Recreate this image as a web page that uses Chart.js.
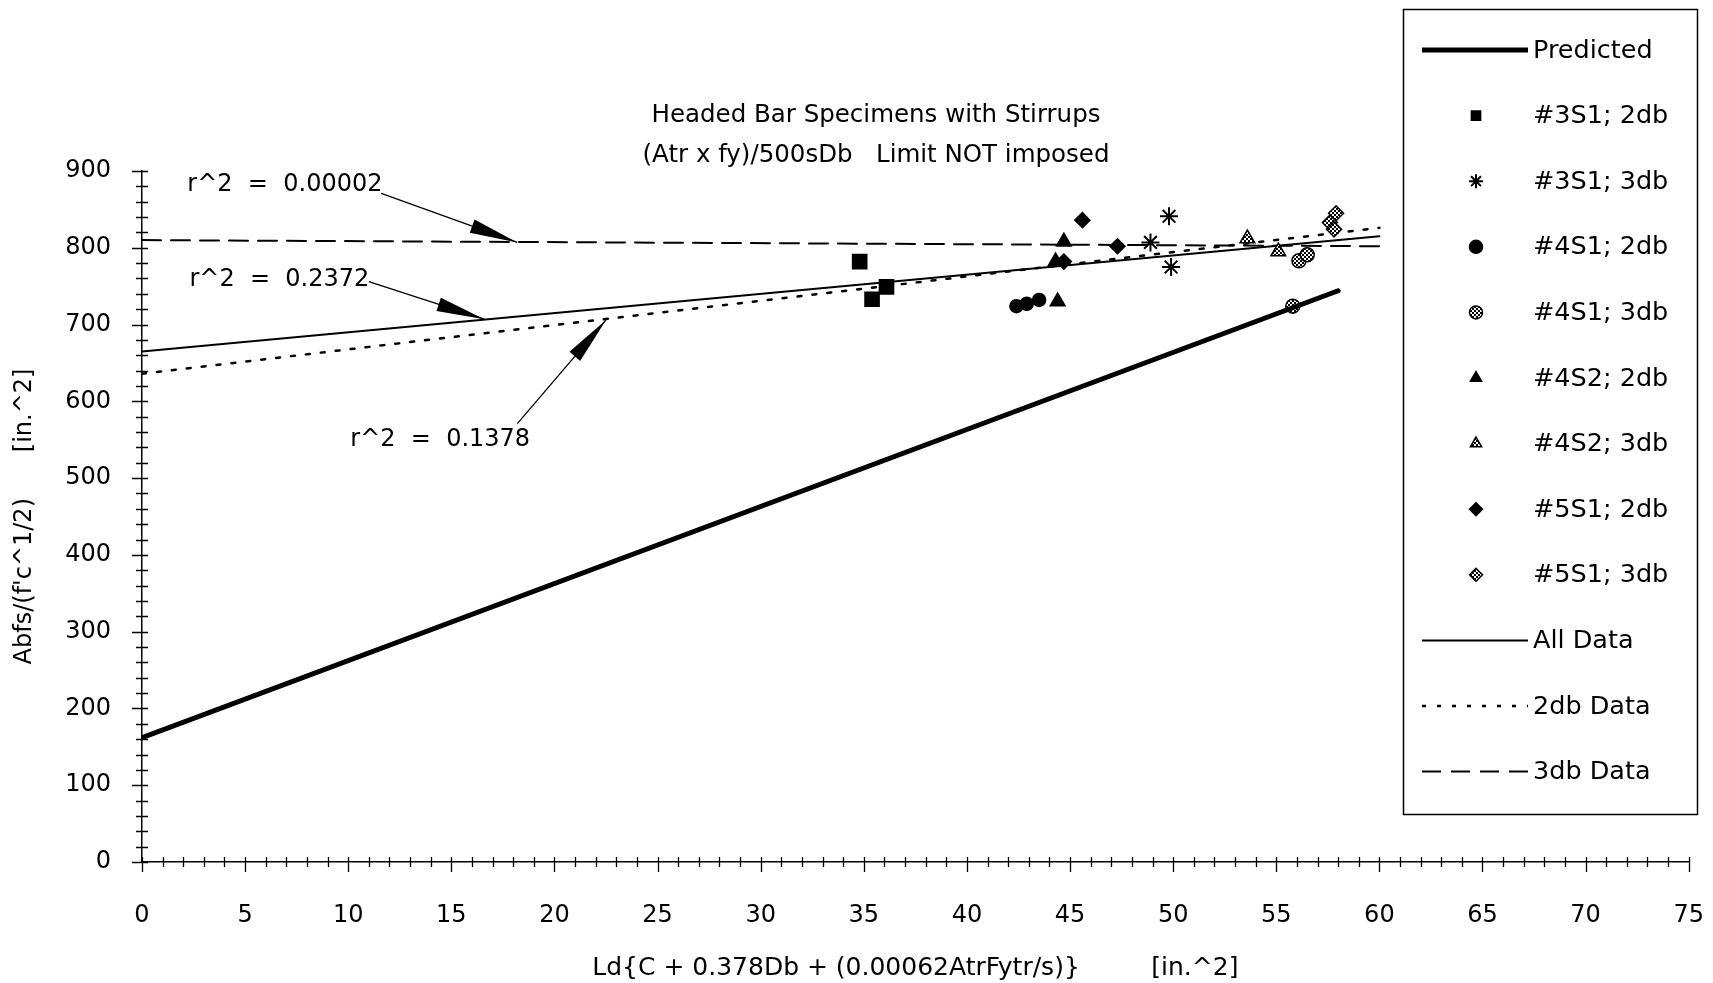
<!DOCTYPE html>
<html>
<head>
<meta charset="utf-8">
<script src="https://cdn.jsdelivr.net/npm/chart.js@4.4.1/dist/chart.umd.min.js"></script>
<style>
  html, body { margin: 0; padding: 0; background: #fff; }
</style>
</head>
<body>
<canvas id="chart" width="1713" height="983"></canvas>
<script>
// fitted / predicted lines (end points)
const predictedX = [0, 58];
const predictedY = [162, 744];
const allDataX = [0, 60];
const allDataY = [665, 815];
const db2X = [0, 60];
const db2Y = [636, 826];
const db3X = [0, 60];
const db3Y = [810, 802];

// test results
const s3S1_2dbX = [34.8, 35.4, 36.1];
const s3S1_2dbY = [782, 733, 749];
const s3S1_3dbX = [48.9, 49.8, 49.9];
const s3S1_3dbY = [807, 841, 775];
const s4S1_2dbX = [42.4, 42.9, 43.5];
const s4S1_2dbY = [724, 727, 732];
const s4S1_3dbX = [55.8, 56.1, 56.5];
const s4S1_3dbY = [724, 783, 791];
const s4S2_2dbX = [44.3, 44.4, 44.7];
const s4S2_2dbY = [782, 730, 808];
const s4S2_3dbX = [53.6, 55.1];
const s4S2_3dbY = [812, 795];
const s5S1_2dbX = [44.7, 45.6, 47.3];
const s5S1_2dbY = [782, 836, 802];
const s5S1_3dbX = [57.6, 57.8, 57.9];
const s5S1_3dbY = [833, 824, 845];

const xTicks = [0, 75, 5];
const yTicks = [0, 900, 100];

// r^2 notes: text anchor and arrow from/to, in data units
const notes = [
  { text: 'r^2  =  0.00002', x: 2.2, y: 882, from: [11.6, 871], to: [18.2, 807] },
  { text: 'r^2  =  0.2372', x: 2.3, y: 758, from: [11.0, 756], to: [16.6, 707] },
  { text: 'r^2  =  0.1378', x: 10.1, y: 550, from: [18.2, 571], to: [22.5, 706] }
];

const pts = (xs, ys) => xs.map((x, i) => ({ x: x, y: ys[i] }));

const ctx = document.getElementById('chart').getContext('2d');

function speckle() {
  const c = document.createElement('canvas');
  c.width = 4; c.height = 4;
  const g = c.getContext('2d');
  g.fillStyle = '#fff';
  g.fillRect(0, 0, 4, 4);
  g.fillStyle = '#000';
  g.fillRect(0, 0, 2, 2);
  g.fillRect(2, 2, 2, 2);
  return ctx.createPattern(c, 'repeat');
}
const dots = speckle();

Chart.defaults.font.family = "'DejaVu Sans', sans-serif";
Chart.defaults.color = '#000';

function lineSet(label, xs, ys, width, dash) {
  return {
    label: label, data: pts(xs, ys), showLine: true, pointRadius: 0,
    borderColor: '#000', borderWidth: width, borderDash: dash,
    borderCapStyle: 'round', fill: false
  };
}
function markSet(label, xs, ys, style, fill, radius) {
  return {
    label: label, data: pts(xs, ys), showLine: false, pointStyle: style,
    pointRadius: radius, pointBackgroundColor: fill, pointBorderColor: '#000',
    pointBorderWidth: style === 'star' ? 2 : 1.5
  };
}

const datasets = [
  lineSet('Predicted', predictedX, predictedY, 5, []),
  markSet('#3S1; 2db', s3S1_2dbX, s3S1_2dbY, 'rect', '#000', 10),
  markSet('#3S1; 3db', s3S1_3dbX, s3S1_3dbY, 'star', '#000', 9),
  markSet('#4S1; 2db', s4S1_2dbX, s4S1_2dbY, 'circle', '#000', 6.5),
  markSet('#4S1; 3db', s4S1_3dbX, s4S1_3dbY, 'circle', dots, 7),
  markSet('#4S2; 2db', s4S2_2dbX, s4S2_2dbY, 'triangle', '#000', 8.5),
  markSet('#4S2; 3db', s4S2_3dbX, s4S2_3dbY, 'triangle', dots, 8.5),
  markSet('#5S1; 2db', s5S1_2dbX, s5S1_2dbY, 'rectRot', '#000', 7.5),
  markSet('#5S1; 3db', s5S1_3dbX, s5S1_3dbY, 'rectRot', dots, 7.5),
  lineSet('All Data', allDataX, allDataY, 2, []),
  lineSet('2db Data', db2X, db2Y, 2.5, [4, 11]),
  lineSet('3db Data', db3X, db3Y, 2, [19, 10])
];

// crossing tick marks like the original plot
const tickMarks = {
  id: 'tickMarks',
  afterDraw(chart) {
    const c = chart.ctx, sx = chart.scales.x, sy = chart.scales.y;
    const y0 = sy.getPixelForValue(0), x0 = sx.getPixelForValue(0);
    c.save();
    c.strokeStyle = '#000';
    c.lineWidth = 1.3;
    c.beginPath();
    for (let v = xTicks[0]; v <= xTicks[1]; v++) {
      const px = Math.round(sx.getPixelForValue(v)) + 0.5;
      c.moveTo(px, y0 - 5);
      c.lineTo(px, y0 + (v % xTicks[2] === 0 ? 10 : 5));
    }
    for (let v = yTicks[0]; v <= yTicks[1]; v += 20) {
      const py = Math.round(sy.getPixelForValue(v)) + 0.5;
      c.moveTo(x0 - (v % yTicks[2] === 0 ? 10 : 6), py);
      c.lineTo(x0 + 6, py);
    }
    c.stroke();
    c.restore();
  }
};

const noteArrows = {
  id: 'noteArrows',
  afterDraw(chart) {
    const c = chart.ctx, sx = chart.scales.x, sy = chart.scales.y;
    c.save();
    c.fillStyle = '#000';
    c.strokeStyle = '#000';
    c.font = "24px 'DejaVu Sans'";
    c.textBaseline = 'middle';
    notes.forEach(n => {
      c.fillText(n.text, sx.getPixelForValue(n.x), sy.getPixelForValue(n.y));
      const ax = sx.getPixelForValue(n.from[0]), ay = sy.getPixelForValue(n.from[1]);
      const bx = sx.getPixelForValue(n.to[0]), by = sy.getPixelForValue(n.to[1]);
      c.lineWidth = 1.3;
      c.beginPath();
      c.moveTo(ax, ay);
      c.lineTo(bx, by);
      c.stroke();
      const len = Math.hypot(bx - ax, by - ay);
      const ux = (bx - ax) / len, uy = (by - ay) / len;
      const hx = bx - ux * 48, hy = by - uy * 48;
      c.beginPath();
      c.moveTo(bx, by);
      c.lineTo(hx - uy * 7, hy + ux * 7);
      c.lineTo(hx + uy * 7, hy - ux * 7);
      c.closePath();
      c.fill();
    });
    c.restore();
  }
};

const titles = {
  id: 'titles',
  afterDraw(chart) {
    const c = chart.ctx;
    c.save();
    c.fillStyle = '#000';
    c.font = "24.5px 'DejaVu Sans'";
    c.textAlign = 'center';
    c.textBaseline = 'middle';
    c.fillText('Headed Bar Specimens with Stirrups', 876, 116);
    c.fillText('(Atr x fy)/500sDb   Limit NOT imposed', 876, 156);
    c.restore();
  }
};

const boxLegend = {
  id: 'boxLegend',
  afterDraw(chart) {
    const c = chart.ctx;
    const left = 1403, top = 9, w = 294, h = 805;
    c.save();
    c.fillStyle = '#fff';
    c.fillRect(left, top, w, h);
    c.strokeStyle = '#000';
    c.lineWidth = 1.5;
    c.strokeRect(left + 0.5, top + 0.5, w, h);
    c.font = "25.5px 'DejaVu Sans'";
    c.textBaseline = 'middle';
    chart.data.datasets.forEach((ds, i) => {
      const y = 50 + i * 65.6;
      c.fillStyle = '#000';
      c.strokeStyle = '#000';
      if (ds.showLine) {
        c.lineWidth = ds.borderWidth;
        c.setLineDash(ds.borderDash);
        c.beginPath();
        c.moveTo(1422, y);
        c.lineTo(1528, y);
        c.stroke();
        c.setLineDash([]);
      } else {
        c.fillStyle = ds.pointBackgroundColor;
        c.lineWidth = ds.pointBorderWidth;
        Chart.helpers.drawPoint(c, {
          pointStyle: ds.pointStyle, radius: ds.pointStyle === 'star' ? 7 : 6.5,
          rotation: 0, borderWidth: ds.pointBorderWidth
        }, 1476, y);
      }
      c.fillStyle = '#000';
      c.fillText(ds.label, 1533, y + 1);
    });
    c.restore();
  }
};

new Chart(ctx, {
  type: 'scatter',
  data: { datasets: datasets },
  options: {
    responsive: false,
    animation: false,
    devicePixelRatio: 1,
    layout: { padding: { left: 0, right: 21, top: 171, bottom: 0 } },
    plugins: {
      legend: { display: false },
      tooltip: { enabled: false }
    },
    scales: {
      x: {
        type: 'linear', min: xTicks[0], max: xTicks[1],
        ticks: { stepSize: xTicks[2], padding: 9, font: { size: 24 } },
        grid: { display: true, drawOnChartArea: false, drawTicks: true, tickLength: 30, tickColor: 'rgba(0,0,0,0)' },
        border: { display: true, color: '#000', width: 1.5 },
        title: {
          display: true,
          text: 'Ld{C + 0.378Db + (0.00062AtrFytr/s)}         [in.^2]',
          font: { size: 25 }, padding: { top: 0, bottom: 0 }
        },
        afterFit(scale) { scale.height = 121; }
      },
      y: {
        type: 'linear', min: yTicks[0], max: yTicks[1],
        ticks: { stepSize: yTicks[2], padding: 3, font: { size: 24 } },
        grid: { display: true, drawOnChartArea: false, drawTicks: true, tickLength: 28, tickColor: 'rgba(0,0,0,0)' },
        border: { display: true, color: '#000', width: 1.5 },
        title: {
          display: true,
          text: "Abfs/(f'c^1/2)      [in.^2]",
          font: { size: 24 }, padding: { top: 10, bottom: 0 }
        },
        afterFit(scale) { scale.width = 142; }
      }
    }
  },
  plugins: [tickMarks, noteArrows, titles, boxLegend]
});
</script>
</body>
</html>
